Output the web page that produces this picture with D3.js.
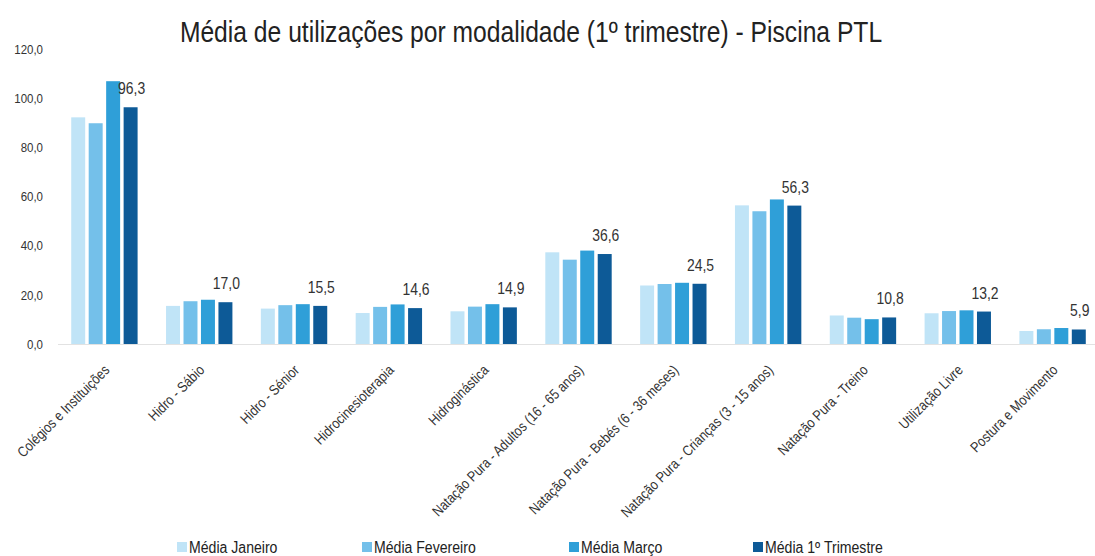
<!DOCTYPE html>
<html>
<head>
<meta charset="utf-8">
<script src="https://cdn.jsdelivr.net/npm/d3@7"></script>
<style>
  body { margin: 0; background: #fff; }
  svg { display: block; font-family: "Liberation Sans", Arial, sans-serif; }
</style>
</head>
<body>
<svg width="1095" height="556"></svg>
<script>
const width = 1095, height = 556;
const svg = d3.select("svg");

// Data
const categories = [
    "Colégios e Instituições", "Hidro - Sábio", "Hidro - Sénior", "Hidrocinesioterapia",
    "Hidroginástica", "Natação Pura - Adultos (16 - 65 anos)", "Natação Pura - Bebés (6 - 36 meses)",
    "Natação Pura - Crianças (3 - 15 anos)", "Natação Pura - Treino", "Utilização Livre", "Postura e Movimento"
];
const seriesNames = ["Média Janeiro", "Média Fevereiro", "Média Março", "Média 1º Trimestre"];
const janeiro   = [92.2, 15.5, 14.4, 12.6, 13.3, 37.3, 23.8, 56.4, 11.6, 12.5, 5.3];
const fevereiro = [89.8, 17.4, 15.8, 15.1, 15.2, 34.3, 24.4, 54.0, 10.7, 13.4, 6.0];
const marco     = [106.9, 18.0, 16.2, 16.1, 16.2, 38.0, 24.9, 58.8, 10.1, 13.7, 6.5];
const trimestre = [96.3, 17.0, 15.5, 14.6, 14.9, 36.6, 24.5, 56.3, 10.8, 13.2, 5.9];
const yTicks = [0, 20, 40, 60, 80, 100, 120];
const colors = ["#c0e4f7", "#74c0ea", "#2f9fd8", "#0d5a97"];

const allSeries = [janeiro, fevereiro, marco, trimestre];
const fmt = v => d3.format(".1f")(v).replace(".", ",");

// No narrow font installed, so squeeze the text horizontally
function narrow(sel, factor) {
    sel.each(function () {
        const len = this.getComputedTextLength();
        d3.select(this).attr("textLength", len * factor).attr("lengthAdjust", "spacingAndGlyphs");
    });
}

// Scales
const x0 = d3.scaleBand().domain(categories).range([57, 1100]).paddingInner(0.3).paddingOuter(0.15);
const x1 = d3.scaleBand().domain(d3.range(4)).range([0, x0.bandwidth()]).paddingInner(0.2);
const y = d3.scaleLinear().domain([0, 120]).range([344, 49]);

// Title
svg.append("text")
    .attr("x", 531).attr("y", 42)
    .attr("text-anchor", "middle")
    .style("font-size", "29px").style("fill", "#222")
    .text("Média de utilizações por modalidade (1º trimestre) - Piscina PTL")
    .call(narrow, 0.85);

// Y axis labels (no line)
const yAxis = svg.append("g")
    .attr("transform", "translate(44,0)")
    .call(d3.axisLeft(y).tickValues(yTicks).tickSize(0).tickPadding(1).tickFormat(fmt));
yAxis.select(".domain").remove();
yAxis.selectAll(".tick text")
    .style("font-size", "13.5px").style("fill", "#333")
    .style("font-family", "\"Liberation Sans\", Arial, sans-serif")
    .call(narrow, 0.85);

// Baseline
svg.append("line")
    .attr("x1", 58).attr("x2", 1095)
    .attr("y1", y(0) + 0.5).attr("y2", y(0) + 0.5)
    .attr("stroke", "#e2e2e2").attr("stroke-width", 1);

// Bars
const groups = svg.selectAll(".grp")
    .data(categories)
    .enter().append("g")
    .attr("class", "grp")
    .attr("transform", d => `translate(${x0(d)},0)`);

groups.selectAll("rect")
    .data((d, i) => allSeries.map((s, k) => ({ k, v: s[i] })))
    .enter().append("rect")
    .attr("x", d => x1(d.k))
    .attr("y", d => y(d.v))
    .attr("width", x1.bandwidth())
    .attr("height", d => y(0) - y(d.v))
    .attr("fill", d => colors[d.k]);

// Value labels over the trimester bar
groups.append("text")
    .attr("x", x1(3) + x1.bandwidth() / 2 + 1)
    .attr("y", (d, i) => y(trimestre[i]) - 13)
    .attr("text-anchor", "middle")
    .style("font-size", "17px").style("fill", "#333")
    .text((d, i) => fmt(trimestre[i]))
    .call(narrow, 0.82);

// Category labels rotated
svg.selectAll(".cat")
    .data(categories)
    .enter().append("text")
    .attr("class", "cat")
    .attr("text-anchor", "end")
    .attr("transform", d => `translate(${x0(d) + x0.bandwidth() / 2 + 6},371) rotate(-45)`)
    .style("font-size", "14.5px").style("fill", "#333")
    .text(d => d)
    .call(narrow, 0.85);

// Legend
const legendX = [177, 362, 569, 753];
const legend = svg.selectAll(".leg")
    .data(seriesNames)
    .enter().append("g")
    .attr("class", "leg")
    .attr("transform", (d, i) => `translate(${legendX[i]},547)`);
legend.append("rect")
    .attr("x", 0).attr("y", -5).attr("width", 10).attr("height", 10)
    .attr("fill", (d, i) => colors[i]);
legend.append("text")
    .attr("x", 12).attr("y", 6)
    .style("font-size", "16px").style("fill", "#222")
    .text(d => d)
    .call(narrow, 0.88);
</script>
</body>
</html>
